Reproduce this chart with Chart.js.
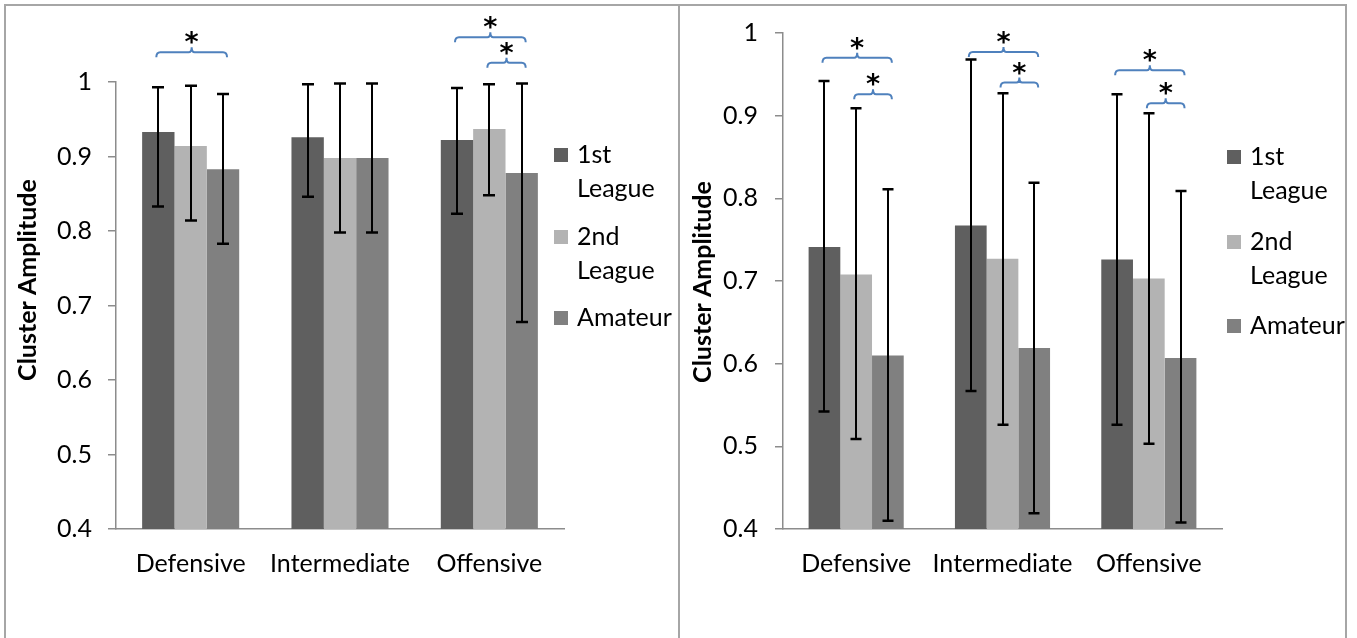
<!DOCTYPE html>
<html><head><meta charset="utf-8">
<script src="https://cdn.jsdelivr.net/npm/chart.js@4.4.1/dist/chart.umd.min.js"></script>
<style>
html,body{margin:0;padding:0;background:#fff;}
#wrap{position:relative;width:1357px;height:638px;overflow:hidden;background:#fff;}
.ln{position:absolute;background:#a6a6a6;}
canvas{position:absolute;top:0;}
</style></head><body>
<div id="wrap">
 <div class="ln" style="left:4px;top:4px;width:1343px;height:2px"></div>
 <div class="ln" style="left:4px;top:4px;width:2px;height:640px"></div>
 <div class="ln" style="left:678px;top:4px;width:2px;height:640px"></div>
 <div class="ln" style="left:1345px;top:4px;width:2px;height:640px"></div>
 <canvas id="c1" width="679" height="638" style="left:0"></canvas>
 <canvas id="c2" width="678" height="638" style="left:679px"></canvas>
</div>
<script>
// ---- data ----
const categories = ['Defensive', 'Intermediate', 'Offensive'];
const seriesLabels = [['1st', 'League'], ['2nd', 'League'], ['Amateur']];
const yTickLabels = ['0.4', '0.5', '0.6', '0.7', '0.8', '0.9', '1'];
const axisTitle = 'Cluster Amplitude';

// left panel
const leftFirst = [0.933, 0.926, 0.922];
const leftSecond = [0.914, 0.898, 0.937];
const leftAmateur = [0.883, 0.898, 0.878];
const leftFirstLow = [0.833, 0.846, 0.823];
const leftFirstHigh = [0.993, 0.997, 0.992];
const leftSecondLow = [0.814, 0.798, 0.848];
const leftSecondHigh = [0.995, 0.998, 0.997];
const leftAmateurLow = [0.783, 0.798, 0.678];
const leftAmateurHigh = [0.984, 0.998, 0.998];
// significance brackets: [category, fromSeries, toSeries, level]
const leftBrackets = [[0, 0, 2, 1.040], [2, 0, 2, 1.060], [2, 1, 2, 1.026]];

// right panel
const rightFirst = [0.741, 0.767, 0.726];
const rightSecond = [0.708, 0.727, 0.703];
const rightAmateur = [0.610, 0.619, 0.607];
const rightFirstLow = [0.542, 0.567, 0.526];
const rightFirstHigh = [0.942, 0.968, 0.926];
const rightSecondLow = [0.509, 0.526, 0.503];
const rightSecondHigh = [0.909, 0.927, 0.903];
const rightAmateurLow = [0.410, 0.419, 0.408];
const rightAmateurHigh = [0.811, 0.819, 0.809];
const rightBrackets = [[0, 0, 2, 0.970], [0, 1, 2, 0.926], [1, 0, 2, 0.977], [1, 1, 2, 0.940], [2, 0, 2, 0.955], [2, 1, 2, 0.915]];

// ---- style ----
const FONT = 'Lato';
const FS = 25;
const colors = ['#5f5f5f', '#b3b3b3', '#808080'];
const axisColor = '#8c8c8c';
const bracketColor = '#4f81bd';

const decor = {
  id: 'decor',
  afterDatasetsDraw(chart, args, o) {
    const ctx = chart.ctx;
    const ys = chart.scales.y;
    ctx.save();
    // error bars
    chart.data.datasets.forEach((ds, i) => {
      const meta = chart.getDatasetMeta(i);
      meta.data.forEach((bar, j) => {
        const x = Math.round(bar.x);
        const yl = ys.getPixelForValue(ds.low[j]);
        const yh = ys.getPixelForValue(ds.high[j]);
        ctx.strokeStyle = '#000';
        ctx.lineWidth = 2;
        ctx.beginPath(); ctx.moveTo(x, yl); ctx.lineTo(x, yh); ctx.stroke();
        ctx.lineWidth = 2.5;
        ctx.beginPath();
        ctx.moveTo(x - o.cap / 2, yl); ctx.lineTo(x + o.cap / 2, yl);
        ctx.moveTo(x - o.cap / 2, yh); ctx.lineTo(x + o.cap / 2, yh);
        ctx.stroke();
      });
    });
    // brackets
    o.brackets.forEach(b => {
      const [c, a, z, lvl] = b;
      const x0 = chart.getDatasetMeta(a).data[c].x - 2;
      const x1 = chart.getDatasetMeta(z).data[c].x + 4;
      const y = ys.getPixelForValue(lvl);
      const m = (x0 + x1) / 2;
      ctx.strokeStyle = bracketColor;
      ctx.lineWidth = 2;
      ctx.beginPath();
      ctx.moveTo(x0, y + 5);
      ctx.quadraticCurveTo(x0, y, x0 + 4, y);
      ctx.lineTo(m - 3, y);
      ctx.quadraticCurveTo(m, y, m, y - 5);
      ctx.quadraticCurveTo(m, y, m + 3, y);
      ctx.lineTo(x1 - 4, y);
      ctx.quadraticCurveTo(x1, y, x1, y + 5);
      ctx.stroke();
      ctx.fillStyle = '#000';
      ctx.font = `bold 27px 'DejaVu Sans'`;
      ctx.textAlign = 'center';
      ctx.textBaseline = 'alphabetic';
      ctx.fillText('*', m, y - 1);
    });
    // legend
    ctx.font = `${FS}px ${FONT}`;
    ctx.textAlign = 'left';
    ctx.textBaseline = 'middle';
    chart.data.datasets.forEach((ds, i) => {
      const cy = o.legendY[i];
      ctx.fillStyle = ds.backgroundColor;
      ctx.fillRect(o.legendX, cy - 7, 14, 14);
      ctx.fillStyle = '#000';
      seriesLabels[i].forEach((t, k) => ctx.fillText(t, o.legendX + 23, cy + k * 34));
    });
    // y title
    ctx.translate(o.titleX, o.titleY);
    ctx.rotate(-Math.PI / 2);
    ctx.font = `bold 25px ${FONT}`;
    ctx.textAlign = 'center';
    ctx.textBaseline = 'middle';
    ctx.fillText(axisTitle, 0, 0);
    ctx.restore();
  }
};

function build(id, vals, lows, highs, brackets, L) {
  const W = L.W, H = 638;
  return new Chart(document.getElementById(id), {
    type: 'bar',
    data: {
      labels: categories,
      datasets: vals.map((v, i) => ({
        label: seriesLabels[i].join(' '),
        data: v,
        low: lows[i],
        high: highs[i],
        backgroundColor: colors[i],
        borderWidth: 0,
        categoryPercentage: 0.65,
        barPercentage: 1
      }))
    },
    options: {
      responsive: false,
      animation: false,
      devicePixelRatio: 1,
      layout: { padding: { left: 0, top: L.top, right: W - L.right, bottom: 0 } },
      plugins: {
        legend: { display: false },
        tooltip: { enabled: false },
        decor: { brackets, cap: L.cap, legendX: L.legendX, legendY: L.legendY, titleX: L.titleX, titleY: L.titleY }
      },
      scales: {
        x: {
          grid: { display: false },
          border: { display: true, color: axisColor, width: 1.5 },
          ticks: { font: { family: FONT, size: FS }, color: '#000', padding: 12, maxRotation: 0 },
          afterFit(a) { a.height = H - L.bottom; }
        },
        y: {
          min: 0.4, max: 1,
          ticks: { stepSize: 0.1, font: { family: FONT, size: FS }, color: '#000', padding: L.tickPad,
                   callback: (v, i) => yTickLabels[i] },
          grid: { display: true, drawOnChartArea: false, drawTicks: true, tickLength: 8, color: axisColor, lineWidth: 1.5 },
          border: { display: true, color: axisColor, width: 1.5 },
          afterFit(a) { a.width = L.left; }
        }
      }
    },
    plugins: [decor]
  });
}

build('c1',
  [leftFirst, leftSecond, leftAmateur],
  [leftFirstLow, leftSecondLow, leftAmateurLow],
  [leftFirstHigh, leftSecondHigh, leftAmateurHigh],
  leftBrackets,
  { W: 679, left: 116, right: 564, top: 82, bottom: 529, tickPad: 16, cap: 12,
    legendX: 554, legendY: [155, 237, 318], titleX: 28, titleY: 280 });

build('c2',
  [rightFirst, rightSecond, rightAmateur],
  [rightFirstLow, rightSecondLow, rightAmateurLow],
  [rightFirstHigh, rightSecondHigh, rightAmateurHigh],
  rightBrackets,
  { W: 678, left: 104, right: 543, top: 33, bottom: 529, tickPad: 17, cap: 11,
    legendX: 548, legendY: [157, 242, 326], titleX: 24, titleY: 282 });
</script>
</body></html>
